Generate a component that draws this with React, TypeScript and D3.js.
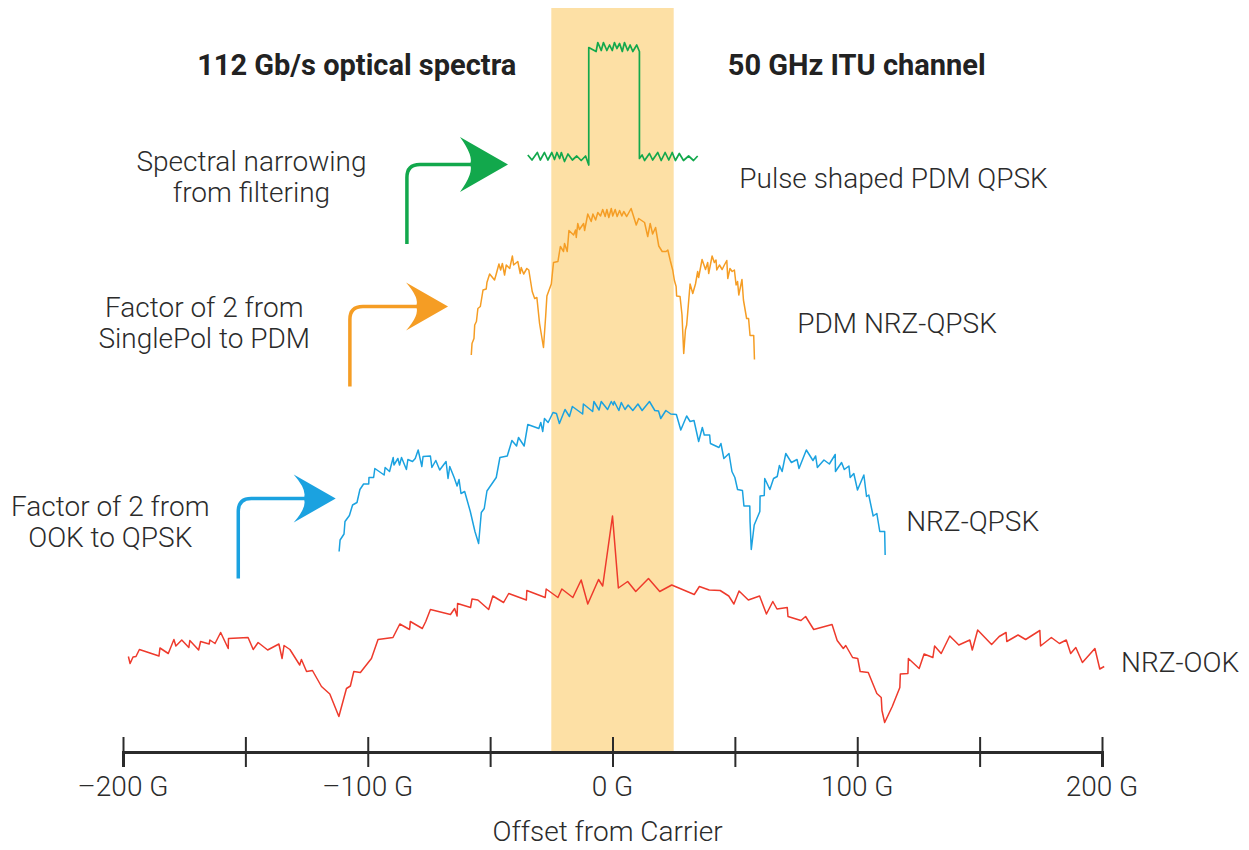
import React, {useEffect, useRef} from 'react'
import * as d3 from 'd3'

// offset from carrier (GHz), relative level (dB, traces stacked)
const nrzOok: [number, number][] = [
  [-197.8, 19.1], [-197.1, 17.7], [-195.9, 19.0], [-194.7, 19.1], [-193.3, 20.5], [-185.3, 19.2], [-184.9, 20.8],
  [-181.5, 19.7], [-179.2, 22.5], [-178.4, 21.2], [-176.0, 22.4], [-173.1, 20.9], [-172.7, 22.3], [-169.1, 20.4],
  [-168.3, 22.1], [-164.8, 21.6], [-164.5, 22.4], [-162.4, 21.7], [-160.1, 23.9], [-157.0, 20.7], [-156.9, 22.7],
  [-148.9, 22.9], [-146.8, 20.5], [-144.8, 21.9], [-140.9, 20.4], [-136.3, 21.6], [-135.0, 18.7], [-134.2, 21.3],
  [-131.8, 20.5], [-127.8, 17.4], [-127.1, 18.5], [-125.0, 16.1], [-122.6, 16.3], [-118.9, 13.1], [-115.5, 11.6],
  [-111.8, 7.1], [-108.7, 12.7], [-107.1, 13.2], [-105.7, 16.1], [-103.0, 15.9], [-98.5, 18.7], [-95.8, 22.5],
  [-89.7, 22.9], [-86.9, 25.6], [-82.9, 24.5], [-82.6, 26.1], [-77.7, 24.7], [-76.3, 26.1], [-74.4, 28.5],
  [-66.2, 27.5], [-64.5, 28.7], [-63.5, 27.2], [-63.3, 29.7], [-58.0, 28.9], [-57.4, 30.6], [-55.0, 30.4],
  [-50.6, 28.5], [-48.9, 31.2], [-44.5, 29.9], [-42.4, 31.7], [-35.2, 30.4], [-35.0, 32.3], [-27.5, 30.9],
  [-27.1, 32.6], [-22.3, 30.9], [-20.7, 32.6], [-16.2, 30.9], [-12.8, 34.4], [-10.1, 29.6], [-5.7, 34.5],
  [-4.0, 33.2], [0.0, 47.2], [2.4, 32.8], [6.2, 34.1], [9.5, 32.1], [14.7, 34.7], [19.3, 32.1], [24.2, 33.4],
  [33.4, 31.5], [35.5, 33.1], [39.5, 32.4], [44.0, 32.3], [47.5, 31.2], [49.6, 29.6], [51.7, 32.2], [55.5, 30.4],
  [60.1, 31.2], [62.9, 27.6], [65.5, 30.1], [67.2, 28.6], [71.4, 28.9], [71.7, 27.1], [77.0, 26.3], [78.9, 27.1],
  [82.2, 24.5], [89.7, 25.5], [91.8, 22.3], [94.3, 20.7], [95.3, 21.3], [98.1, 18.9], [100.2, 18.7], [101.2, 16.1],
  [104.5, 15.9], [108.0, 11.7], [109.8, 10.9], [110.1, 8.3], [111.2, 5.9], [114.3, 9.1], [117.4, 12.9],
  [117.6, 15.6], [120.7, 15.7], [120.9, 18.7], [125.3, 16.7], [127.3, 19.6], [130.9, 18.9], [131.6, 21.2],
  [134.3, 19.7], [137.8, 23.2], [141.5, 21.4], [146.0, 22.4], [147.0, 20.4], [149.2, 24.4], [154.9, 21.5],
  [158.0, 23.1], [160.8, 23.9], [161.1, 22.1], [165.7, 23.4], [168.8, 22.5], [174.6, 24.3], [174.9, 21.2],
  [179.3, 22.9], [182.6, 21.7], [185.4, 22.4], [187.2, 19.7], [189.3, 20.9], [192.0, 17.9], [197.1, 20.7],
  [199.1, 16.6], [200.9, 17.1]
]

const nrzQpsk: [number, number][] = [
  [-111.7, 40.1], [-111.3, 42.4], [-109.7, 43.6], [-109.3, 46.1], [-107.5, 47.3], [-106.2, 49.4], [-104.4, 49.9],
  [-103.2, 52.5], [-101.7, 53.6], [-99.6, 53.6], [-99.5, 54.9], [-97.6, 54.9], [-97.1, 56.7], [-93.3, 55.4],
  [-92.9, 56.9], [-91.1, 56.1], [-89.6, 58.9], [-89.3, 57.4], [-87.7, 58.7], [-87.0, 57.4], [-86.2, 58.9],
  [-84.2, 56.5], [-83.6, 58.5], [-81.7, 58.1], [-80.6, 58.7], [-79.4, 60.4], [-77.9, 57.1], [-77.4, 59.1],
  [-74.4, 59.2], [-73.8, 56.9], [-72.2, 58.3], [-70.6, 56.4], [-68.0, 58.1], [-67.2, 54.7], [-66.5, 57.1],
  [-64.7, 54.9], [-63.5, 53.2], [-62.7, 54.5], [-61.9, 51.7], [-60.4, 52.1], [-58.1, 48.1], [-56.2, 44.1],
  [-54.7, 41.7], [-53.6, 47.9], [-52.4, 48.7], [-51.3, 52.2], [-47.5, 54.9], [-46.0, 58.9], [-43.0, 59.2],
  [-41.1, 62.3], [-39.2, 61.2], [-38.4, 62.9], [-36.1, 61.2], [-34.6, 65.5], [-30.1, 64.7], [-29.3, 65.9],
  [-28.5, 64.1], [-27.8, 66.7], [-26.3, 65.9], [-24.3, 67.9], [-22.9, 67.7], [-21.7, 65.7], [-19.4, 68.5],
  [-17.6, 67.1], [-16.4, 69.1], [-12.2, 67.6], [-11.9, 69.6], [-8.1, 68.1], [-7.6, 70.1], [-5.5, 68.4],
  [-4.6, 70.1], [-2.0, 68.5], [-0.5, 70.1], [0.3, 69.4], [0.7, 70.1], [2.6, 68.3], [3.6, 69.9], [5.1, 68.5],
  [6.4, 69.4], [8.3, 68.3], [10.4, 69.6], [12.1, 68.3], [15.1, 70.1], [17.3, 68.3], [18.8, 68.2], [19.7, 66.7],
  [21.8, 68.3], [23.8, 67.6], [26.1, 67.5], [27.9, 64.4], [30.3, 67.2], [31.7, 66.1], [33.3, 66.3], [35.2, 62.1],
  [36.7, 64.9], [37.5, 63.4], [39.7, 63.4], [40.0, 61.7], [43.5, 60.9], [44.3, 61.7], [45.5, 58.7], [47.6, 59.7],
  [48.8, 56.1], [50.0, 54.9], [51.1, 52.5], [53.1, 52.3], [53.7, 49.2], [56.1, 49.2], [56.2, 46.1], [56.7, 40.5],
  [57.9, 45.4], [60.2, 48.1], [60.3, 51.2], [62.0, 51.3], [62.2, 54.7], [64.3, 52.5], [65.8, 54.7], [67.3, 55.1],
  [68.2, 57.3], [69.3, 56.1], [70.8, 59.7], [73.1, 57.9], [75.4, 58.5], [76.2, 56.7], [79.2, 60.4], [81.9, 58.3],
  [83.0, 59.2], [83.7, 56.9], [86.4, 58.4], [88.6, 57.6], [91.0, 59.5], [91.1, 56.1], [93.6, 57.9], [94.7, 56.5],
  [96.6, 57.2], [97.1, 54.9], [98.6, 55.7], [100.1, 52.4], [102.7, 55.4], [103.8, 51.1], [104.7, 51.4],
  [106.5, 47.2], [108.0, 47.7], [109.2, 44.1], [111.2, 44.1], [111.4, 39.4]
]

const pdmNrzQpsk: [number, number][] = [
  [-57.7, 79.4], [-57.4, 81.7], [-56.6, 82.7], [-56.3, 85.4], [-55.6, 86.1], [-55.0, 88.7], [-54.0, 89.1],
  [-52.9, 92.4], [-51.6, 92.6], [-51.3, 93.9], [-50.2, 95.6], [-48.2, 94.4], [-47.5, 95.6], [-46.4, 97.6],
  [-45.7, 96.4], [-45.0, 97.7], [-44.1, 95.4], [-43.4, 97.4], [-42.0, 96.7], [-40.9, 99.2], [-40.4, 97.4],
  [-38.7, 98.1], [-37.7, 95.7], [-37.3, 96.9], [-36.3, 95.6], [-35.0, 96.7], [-34.2, 96.4], [-32.8, 92.1],
  [-31.8, 90.7], [-30.9, 90.9], [-29.8, 85.7], [-28.2, 80.9], [-27.3, 87.2], [-26.8, 91.2], [-25.0, 93.6],
  [-24.1, 97.9], [-22.3, 98.1], [-21.3, 101.1], [-20.0, 100.1], [-19.6, 101.7], [-18.5, 100.1], [-17.8, 104.3],
  [-15.9, 103.4], [-15.1, 104.4], [-14.8, 102.9], [-14.2, 105.7], [-13.5, 104.5], [-11.8, 105.7], [-11.4, 104.3],
  [-10.1, 107.6], [-8.7, 106.1], [-8.0, 107.6], [-6.9, 106.4], [-6.0, 107.9], [-4.9, 107.2], [-4.0, 108.5],
  [-3.0, 107.1], [-2.3, 108.5], [-1.5, 106.9], [-0.5, 108.7], [0.1, 107.2], [1.1, 108.5], [1.9, 107.1],
  [2.9, 108.3], [3.8, 107.2], [4.6, 108.1], [5.8, 107.1], [7.6, 108.7], [9.7, 105.4], [10.7, 106.7], [13.1, 105.9],
  [14.4, 103.1], [15.4, 105.7], [16.4, 103.6], [17.6, 104.9], [18.9, 101.2], [20.3, 100.1], [21.9, 100.1],
  [22.6, 100.4], [23.6, 98.3], [24.6, 96.4], [25.3, 94.3], [26.0, 93.1], [26.2, 91.2], [27.6, 91.1], [28.4, 87.4],
  [29.1, 79.7], [29.8, 84.4], [30.3, 85.4], [30.7, 87.7], [31.7, 93.6], [32.8, 91.7], [33.9, 93.6], [34.8, 96.1],
  [35.2, 94.9], [36.6, 98.5], [38.0, 96.5], [38.9, 97.9], [39.3, 95.7], [40.7, 99.2], [41.6, 97.9], [42.3, 98.4],
  [42.6, 96.4], [43.7, 97.4], [44.8, 96.5], [45.7, 97.4], [46.7, 98.3], [47.1, 94.7], [48.0, 96.7], [48.9, 96.1],
  [49.8, 96.4], [50.5, 93.4], [51.1, 94.1], [51.6, 91.4], [52.9, 94.5], [53.5, 90.4], [54.8, 86.7], [55.6, 86.7],
  [56.2, 83.3], [57.7, 83.3], [58.0, 78.5]
]

const pulseShapedPdmQpsk: [number, number][] = [
  [-34.6, 119.4], [-32.9, 118.4], [-30.7, 119.9], [-29.5, 118.4], [-27.8, 119.9], [-26.4, 118.4], [-24.8, 119.9],
  [-23.7, 118.5], [-22.7, 119.9], [-21.6, 118.7], [-20.9, 119.9], [-19.6, 118.1], [-18.2, 119.6], [-16.4, 118.4],
  [-14.6, 119.2], [-12.8, 118.3], [-11.0, 119.2], [-9.7, 117.4], [-9.7, 140.9], [-6.7, 140.1], [-6.0, 141.9],
  [-4.6, 140.3], [-3.7, 141.9], [-2.3, 140.3], [-1.2, 141.4], [-0.1, 140.3], [0.8, 141.9], [1.8, 140.7],
  [2.9, 141.7], [4.0, 140.1], [4.9, 141.9], [6.2, 140.3], [7.2, 141.4], [8.3, 140.1], [9.9, 141.4], [11.0, 140.1],
  [11.0, 118.7], [12.1, 119.4], [13.1, 118.3], [15.1, 119.7], [16.4, 118.4], [18.5, 119.9], [19.9, 118.3],
  [21.5, 119.9], [23.0, 118.4], [24.4, 119.9], [25.7, 118.3], [27.3, 119.7], [29.0, 118.3], [31.1, 119.2],
  [33.1, 118.3], [34.8, 119.2]
]

const freqTicks = [-200, -150, -100, -50, 0, 50, 100, 150, 200]
const labeledTicks = [-200, -100, 0, 100, 200]
const ituChannel = [-25, 25]

const series = [
  {name: 'NRZ-OOK', values: nrzOok, color: '#ee3a2c', width: 1.5},
  {name: 'NRZ-QPSK', values: nrzQpsk, color: '#1ba2e0', width: 1.5},
  {name: 'PDM NRZ-QPSK', values: pdmNrzQpsk, color: '#f59d24', width: 1.5},
  {name: 'Pulse shaped PDM QPSK', values: pulseShapedPdmQpsk, color: '#12a84c', width: 1.7},
]

// annotation layout, in data units (GHz, dB)
const traceLabels = [
  {text: 'Pulse shaped PDM QPSK', x: 51.8, y: 112.8},
  {text: 'PDM NRZ-QPSK', x: 75.5, y: 83.8},
  {text: 'NRZ-QPSK', x: 120, y: 44.2},
  {text: 'NRZ-OOK', x: 207.8, y: 16},
]

const notes = [
  {lines: ['Spectral narrowing', 'from filtering'], x: -147.5, y: 116.3},
  {lines: ['Factor of 2 from', 'SinglePol to PDM'], x: -166.8, y: 87.1},
  {lines: ['Factor of 2 from', 'OOK to QPSK'], x: -205.2, y: 47.3},
]

const arrows = [
  {x: -84.0, bottom: 101.6, level: 117.5, tip: -42.7, color: '#12a84c', len: 48, half: 27.5},
  {x: -107.3, bottom: 73.1, level: 89.1, tip: -67.2, color: '#f59d24', len: 42, half: 24},
  {x: -152.9, bottom: 34.7, level: 50.7, tip: -113.1, color: '#1ba2e0', len: 42, half: 24},
]

const width = 1249
const height = 850
const axisY = 752
const font = 'Roboto, "Open Sans", sans-serif'
const ink = '#2b2b2b'

export default function App() {
  const ref = useRef<SVGSVGElement>(null)

  useEffect(() => {
    const svg = d3.select(ref.current)
    svg.selectAll('*').remove()

    const x = d3.scaleLinear().domain([-200, 200]).range([123, 1102])
    const y = d3.scaleLinear().domain([0, 148.8]).range([axisY, 8])

    svg.append('rect')
      .attr('x', x(ituChannel[0]))
      .attr('width', x(ituChannel[1]) - x(ituChannel[0]))
      .attr('y', y(148.8))
      .attr('height', y(0) - y(148.8))
      .attr('fill', '#fde0a5')

    const line = d3.line<[number, number]>()
      .x(d => x(d[0]))
      .y(d => y(d[1]))

    svg.append('g')
      .attr('fill', 'none')
      .attr('stroke-linejoin', 'round')
      .selectAll('path')
      .data(series)
      .join('path')
      .attr('stroke', d => d.color)
      .attr('stroke-width', d => d.width)
      .attr('d', d => line(d.values))

    // axis
    const axis = svg.append('g')
      .attr('transform', `translate(0,${axisY})`)
      .call(d3.axisBottom(x).tickValues(freqTicks).tickSize(15).tickFormat(() => ''))
    axis.select('.domain').attr('stroke', ink).attr('stroke-width', 3)
    axis.selectAll('.tick line').attr('y1', -15).attr('stroke', ink).attr('stroke-width', 2)

    svg.append('g')
      .selectAll('text')
      .data(labeledTicks)
      .join('text')
      .attr('x', d => x(d))
      .attr('y', axisY + 44)
      .attr('text-anchor', 'middle')
      .attr('font-family', font)
      .attr('font-weight', 300)
      .attr('font-size', 28)
      .attr('fill', ink)
      .text(d => (d < 0 ? '\u2013' + Math.abs(d) : d) + ' G')

    svg.append('text')
      .attr('x', x(-2))
      .attr('y', 841)
      .attr('text-anchor', 'middle')
      .attr('font-family', font)
      .attr('font-weight', 300)
      .attr('font-size', 28)
      .attr('fill', ink)
      .text('Offset from Carrier')

    // titles
    svg.append('text')
      .attr('x', x(-104.5)).attr('y', y(135.4))
      .attr('text-anchor', 'middle')
      .attr('font-family', font).attr('font-weight', 700).attr('font-size', 29)
      .attr('fill', '#222')
      .text('112 Gb/s optical spectra')

    svg.append('text')
      .attr('x', x(99.8)).attr('y', y(135.4))
      .attr('text-anchor', 'middle')
      .attr('font-family', font).attr('font-weight', 700).attr('font-size', 29)
      .attr('fill', '#222')
      .text('50 GHz ITU channel')

    svg.append('g')
      .selectAll('text')
      .data(traceLabels)
      .join('text')
      .attr('x', d => x(d.x))
      .attr('y', d => y(d.y))
      .attr('font-family', font)
      .attr('font-weight', 300)
      .attr('font-size', 28)
      .attr('fill', ink)
      .text(d => d.text)

    const note = svg.append('g')
      .selectAll('text')
      .data(notes)
      .join('text')
      .attr('text-anchor', 'middle')
      .attr('font-family', font)
      .attr('font-weight', 300)
      .attr('font-size', 28)
      .attr('fill', ink)
    note.selectAll('tspan')
      .data(d => d.lines.map((t, i) => ({t, i, d})))
      .join('tspan')
      .attr('x', e => x(e.d.x))
      .attr('y', e => y(e.d.y) + e.i * 31)
      .text(e => e.t)

    // elbow arrows
    const r = 13
    const arrowG = svg.append('g')
      .selectAll('g')
      .data(arrows)
      .join('g')
    arrowG.append('path')
      .attr('fill', 'none')
      .attr('stroke', d => d.color)
      .attr('stroke-width', 3.5)
      .attr('d', d => {
        const x0 = x(d.x), yb = y(d.bottom), yc = y(d.level)
        const xe = x(d.tip) - d.len + 12
        return `M${x0},${yb}V${yc + r}Q${x0},${yc} ${x0 + r},${yc}H${xe}`
      })
    arrowG.append('path')
      .attr('fill', d => d.color)
      .attr('d', d => {
        const xt = x(d.tip), yc = y(d.level)
        const xb = xt - d.len
        return `M${xt},${yc}L${xb},${yc - d.half}Q${xb + 14},${yc - 8} ${xb + 10},${yc}` +
          `Q${xb + 14},${yc + 8} ${xb},${yc + d.half}Z`
      })
  }, [])

  return (
    <svg ref={ref} width={width} height={height}
         style={{position: 'absolute', left: 0, top: 0, background: '#fff'}}/>
  )
}
